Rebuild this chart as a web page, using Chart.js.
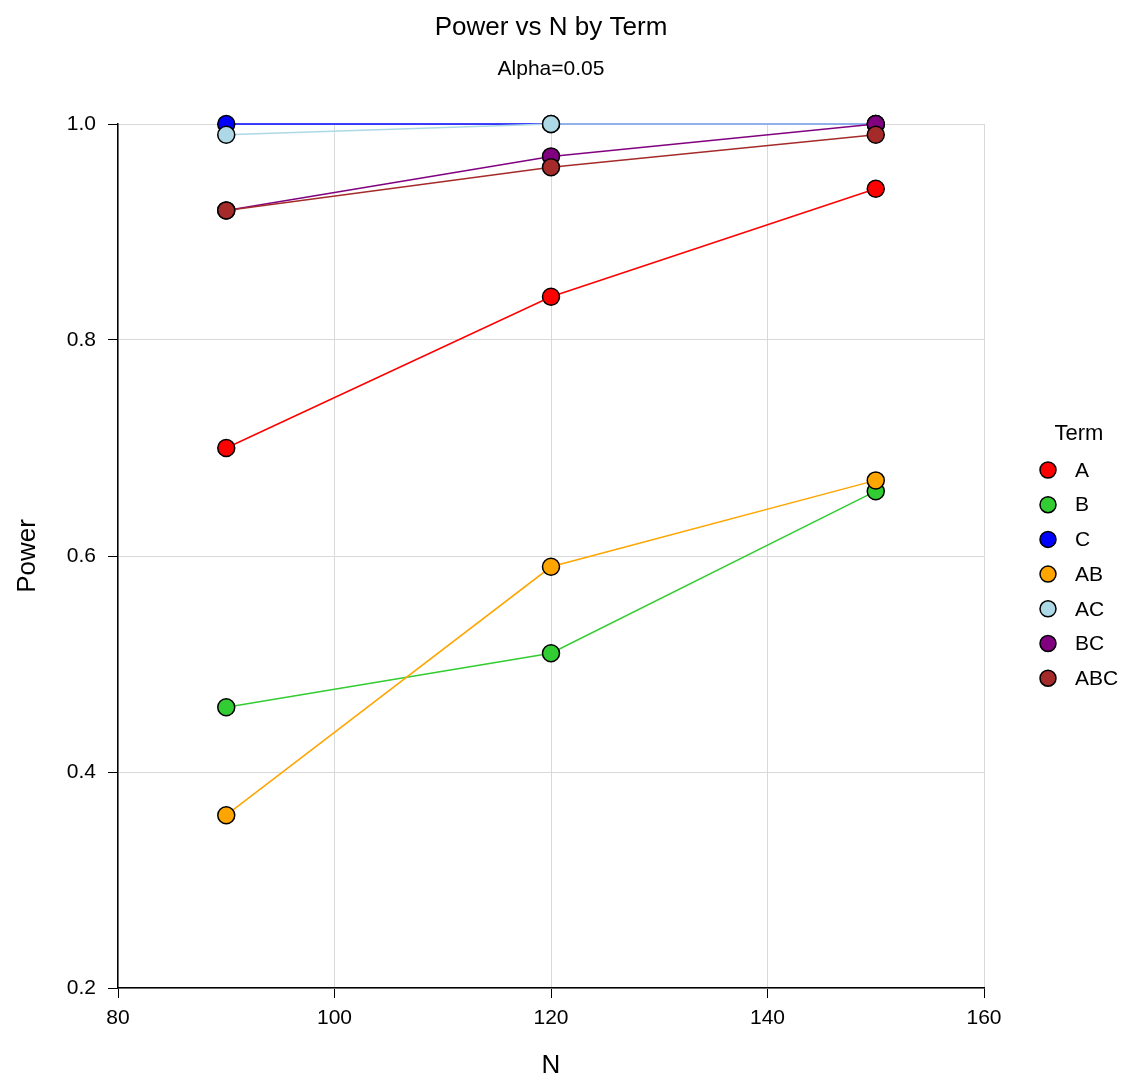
<!DOCTYPE html>
<html>
<head>
<meta charset="utf-8">
<title>Power vs N by Term</title>
<script src="https://cdn.jsdelivr.net/npm/chart.js@4.4.1/dist/chart.umd.min.js"></script>
<style>
  html, body { margin: 0; padding: 0; background: #fff; }
  canvas { display: block; }
</style>
</head>
<body>
<canvas id="powerChart" width="1126" height="1089"></canvas>
<script>
// sample sizes on the x axis
var nValues = [90, 120, 150];

// power per term
var termNames = ['A', 'B', 'C', 'AB', 'AC', 'BC', 'ABC'];
var powerA   = [0.70, 0.84, 0.94];
var powerB   = [0.46, 0.51, 0.66];
var powerC   = [1.00, 1.00, 1.00];
var powerAB  = [0.36, 0.59, 0.67];
var powerAC  = [0.99, 1.00, 1.00];
var powerBC  = [0.92, 0.97, 1.00];
var powerABC = [0.92, 0.96, 0.99];

var xTicks = [80, 100, 120, 140, 160];
var yTicks = [0.2, 0.4, 0.6, 0.8, 1.0];

var termColors = ['#ff0000', '#32cd32', '#0000ff', '#ffa500', '#add8e6', '#800080', '#a52a2a'];
var allPower = [powerA, powerB, powerC, powerAB, powerAC, powerBC, powerABC];

var FONT = 'Arial, "Liberation Sans", Helvetica, sans-serif';

function makeDataset(i){
    return {
        label: termNames[i],
        data: nValues.map(function(n, j){ return {x: n, y: allPower[i][j]}; }),
        borderColor: termColors[i],
        backgroundColor: termColors[i],
        borderWidth: 1.5,
        pointBackgroundColor: termColors[i],
        pointBorderColor: '#000',
        pointBorderWidth: 1.5,
        pointRadius: 8.5,
        pointHoverRadius: 8.5,
        tension: 0,
        clip: false,
        // later terms are drawn on top
        order: termNames.length - i
    };
}

// titles and the legend on the right
var textPlugin = {
    id: 'textPlugin',
    afterDraw: function(chart){
        var ctx = chart.ctx;
        var area = chart.chartArea;
        var cx = (area.left + area.right) / 2;
        ctx.save();
        ctx.fillStyle = '#000';
        ctx.textAlign = 'center';
        ctx.textBaseline = 'middle';
        ctx.font = '26px ' + FONT;
        ctx.fillText('Power vs N by Term', cx, 28);
        ctx.font = '21px ' + FONT;
        ctx.fillText('Alpha=0.05', cx, 69);

        ctx.font = '22px ' + FONT;
        ctx.fillText('Term', 1079, 434);
        ctx.font = '21px ' + FONT;
        ctx.textAlign = 'left';
        termNames.forEach(function(t, i){
            var y = 470 + i * 34.7;
            ctx.beginPath();
            ctx.arc(1048, y, 8, 0, Math.PI * 2);
            ctx.fillStyle = termColors[i];
            ctx.fill();
            ctx.lineWidth = 1.5;
            ctx.strokeStyle = '#000';
            ctx.stroke();
            ctx.fillStyle = '#000';
            ctx.fillText(t, 1075, y + 1);
        });
        ctx.restore();
    }
};

new Chart('powerChart', {
    type: 'line',
    data: { datasets: termNames.map(function(t, i){ return makeDataset(i); }) },
    options: {
        responsive: false,
        animation: false,
        layout: { padding: { top: 124, right: 142, bottom: 0, left: 0 } },
        plugins: {
            legend: { display: false },
            title: { display: false },
            tooltip: { enabled: false }
        },
        scales: {
            x: {
                type: 'linear',
                min: xTicks[0],
                max: xTicks[xTicks.length - 1],
                afterFit: function(scale){ scale.height = 101; },
                afterBuildTicks: function(scale){ scale.ticks = xTicks.map(function(v){ return {value: v}; }); },
                border: { color: '#000', width: 1.5 },
                grid: { color: '#d9d9d9', lineWidth: 1, tickColor: '#000', tickLength: 10 },
                ticks: {
                    color: '#000',
                    font: { family: FONT, size: 21 },
                    padding: 8,
                    maxRotation: 0
                },
                title: {
                    display: true,
                    text: 'N',
                    color: '#000',
                    font: { family: FONT, size: 26 },
                    padding: { top: 0, bottom: 8 }
                }
            },
            y: {
                type: 'linear',
                min: yTicks[0],
                max: yTicks[yTicks.length - 1],
                afterFit: function(scale){ scale.width = 118; },
                afterBuildTicks: function(scale){ scale.ticks = yTicks.map(function(v){ return {value: v}; }); },
                border: { color: '#000', width: 1.5 },
                grid: { color: '#d9d9d9', lineWidth: 1, tickColor: '#000', tickLength: 10 },
                ticks: {
                    color: '#000',
                    font: { family: FONT, size: 21 },
                    padding: 12,
                    callback: function(v){ return Number(v).toFixed(1); }
                },
                title: {
                    display: true,
                    text: 'Power',
                    color: '#000',
                    font: { family: FONT, size: 26 },
                    padding: { top: 12, bottom: 0 }
                }
            }
        }
    },
    plugins: [textPlugin]
});
</script>
</body>
</html>
